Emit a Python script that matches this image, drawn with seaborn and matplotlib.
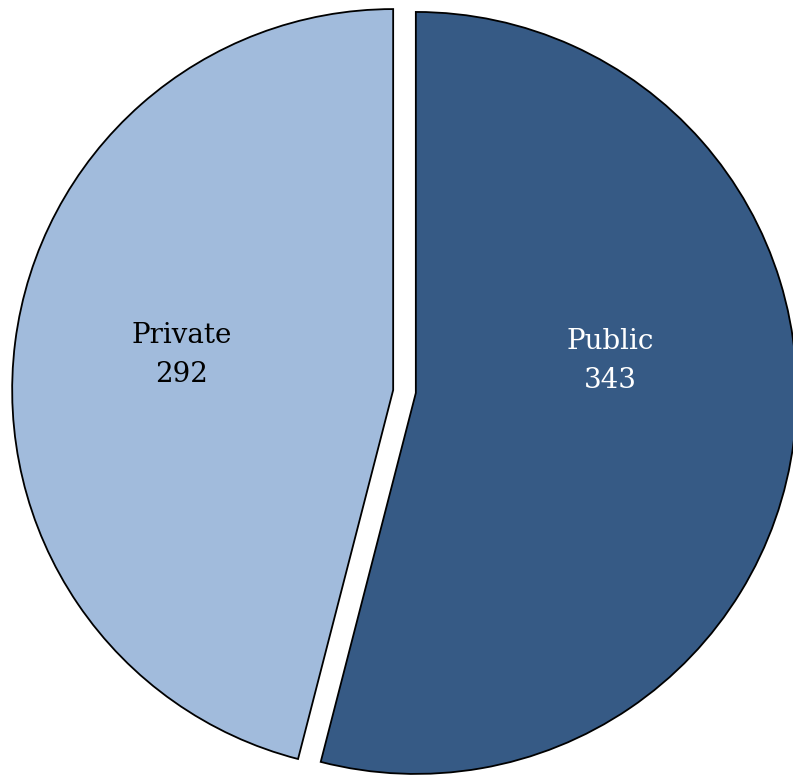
import matplotlib
matplotlib.use("Agg")
import matplotlib.pyplot as plt
import seaborn as sns

sns.set_theme(style="white")
plt.rcParams['font.family'] = ['DejaVu Serif']

categories = ["Public", "Private"]
values = [343, 292]
colors = ["#365A85", "#A1BBDC"]
text_colors = ["white", "black"]

fig = plt.figure(figsize=(7.93, 7.76), dpi=100)
ax = fig.add_axes([0, 0, 1, 1])
wedges, _ = ax.pie(values, colors=colors, startangle=90, counterclock=False,
                   explode=[0.03, 0.03], radius=1.0,
                   wedgeprops=dict(edgecolor="black", linewidth=1.3))
ax.set_aspect("auto")
ax.set_xlim(-1.0617, 1.0197)
ax.set_ylim(-1.0092, 1.0276)
ax.axis("off")

label_pos = [(0.539, 0.080), (-0.584, 0.096)]
for cat, val, (x, y), tc in zip(categories, values, label_pos, text_colors):
    ax.text(x, y, f"{cat}\n{val}", ha="center", va="center", fontsize=20,
            color=tc, linespacing=1.6)

fig.savefig("out.png", dpi=100)
